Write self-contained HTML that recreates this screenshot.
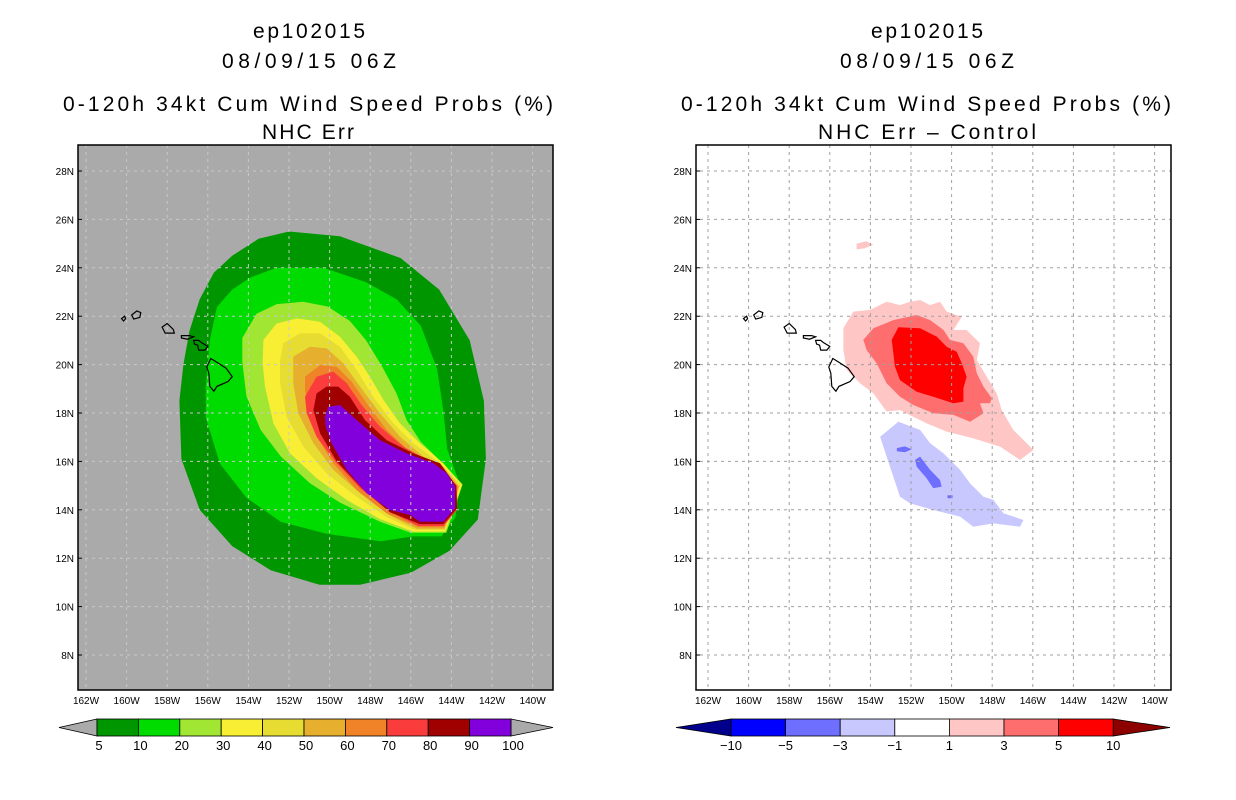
<!DOCTYPE html>
<html><head><meta charset="utf-8"><style>
html,body{margin:0;padding:0;background:#fff;}
svg{display:block;}
text{font-family:"Liberation Sans",sans-serif;fill:#000;}
</style></head><body>
<svg id="s" width="1236" height="800" viewBox="0 0 1236 800" xmlns="http://www.w3.org/2000/svg">
<defs>
<clipPath id="cl"><rect x="78" y="145" width="475" height="545"/></clipPath>
<clipPath id="cr"><rect x="696" y="145" width="475" height="545"/></clipPath>
</defs>
<g>
<text x="309" y="38" font-size="21" text-anchor="middle" textLength="112">ep102015</text>
<text x="309" y="68" font-size="21" text-anchor="middle" textLength="174">08/09/15 06Z</text>
<text x="308" y="111" font-size="21" text-anchor="middle" textLength="490">0-120h 34kt Cum Wind Speed Probs (%)</text>
<text x="308" y="139" font-size="21" text-anchor="middle" textLength="92">NHC Err</text>
</g>
<g>
<text x="927" y="38" font-size="21" text-anchor="middle" textLength="112">ep102015</text>
<text x="927" y="68" font-size="21" text-anchor="middle" textLength="174">08/09/15 06Z</text>
<text x="926" y="111" font-size="21" text-anchor="middle" textLength="490">0-120h 34kt Cum Wind Speed Probs (%)</text>
<text x="927" y="139" font-size="21" text-anchor="middle" textLength="218">NHC Err – Control</text>
</g>
<rect x="78" y="145" width="475" height="545" fill="#aaaaaa"/>
<g id="lf" clip-path="url(#cl)"></g>
<g id="rf" clip-path="url(#cr)"></g>
<g id="ax"></g>
</svg>
<script>
const latTicks=[28,26,24,22,20,18,16,14,12,10,8];
const lonTicks=[162,160,158,156,154,152,150,148,146,144,142,140];
const probLevels=[5,10,20,30,40,50,60,70,80,90,100];
const probColors=["#009600","#00dc00","#a0e632","#f8ee33","#e6dc32","#e6af2d","#f08228","#fa3c3c","#a00000","#8200dc"];
const diffLevels=[-10,-5,-3,-1,1,3,5,10];
const diffColors=["#00008c","#0000ff","#6e6eff","#c8c8ff","#ffffff","#ffc6c6","#ff6e6e","#ff0000","#8c0000"];
// contours: [lonW, lat]
const p5=[[154.8,24.5],[153.5,25.2],[152,25.5],[149.5,25.3],[146.5,24.4],[144.6,23.1],[143.1,21.0],[142.4,18.5],[142.3,16.1],[142.7,13.6],[144.1,12.3],[146,11.4],[148.5,10.9],[150.5,10.9],[152.9,11.5],[154.8,12.5],[156.4,14.0],[157.3,16.1],[157.4,18.5],[157.2,20.0],[156.9,21.4],[156.4,22.7],[155.7,23.8]];
const p10=[[153.9,23.6],[152.6,24.0],[150.3,24.0],[148.2,23.4],[146.7,22.7],[145.5,21.6],[144.7,19.8],[144.4,18.1],[144.2,16.5],[143.6,15.1],[143.8,13.7],[144.5,12.9],[145.9,12.9],[147.5,12.7],[150.1,13.0],[152.4,13.5],[154.1,14.5],[155.4,15.9],[156.1,17.8],[156.1,19.1],[155.9,21.0],[155.55,22.38],[154.8,23.1]];
const p20=[[154.3,21.1],[153.6,22.1],[152.6,22.5],[151.3,22.6],[150.1,22.4],[149.0,21.8],[148.2,21.0],[147.4,19.9],[146.7,18.8],[146.2,17.7],[145.5,16.8],[144.4,15.9],[143.45,15.05],[144.25,13.05],[146.0,13.05],[147.5,13.5],[149.5,14.3],[150.97,15.1],[152.4,16.2],[153.4,17.3],[154.1,18.7],[154.3,20.1]];
const p30=[[153.26,21.02],[152.61,21.7],[151.62,21.91],[150.47,21.77],[149.49,21.15],[148.67,20.33],[148.01,19.5],[147.35,18.54],[146.53,17.57],[145.55,16.75],[144.4,15.92],[143.48,15.03],[144.3,13.1],[145.88,13.1],[147.52,13.62],[149.16,14.41],[150.64,15.3],[151.95,16.33],[152.77,17.57],[153.18,19.09],[153.3,20.05]];
const p40=[[152.28,20.88],[151.46,21.29],[150.47,21.29],[149.49,20.74],[148.67,19.78],[147.85,18.67],[146.86,17.57],[145.88,16.75],[144.56,15.92],[143.56,15.03],[144.32,13.17],[145.79,13.17],[147.19,13.7],[148.67,14.54],[150.15,15.51],[151.29,16.61],[152.12,17.85],[152.44,19.23],[152.44,20.19]];
const p50=[[151.79,20.33],[150.97,20.74],[150.15,20.67],[149.32,20.05],[148.5,19.09],[147.52,17.99],[146.53,17.02],[145.38,16.2],[144.4,15.78],[143.62,14.96],[144.34,13.22],[145.71,13.22],[147.03,13.76],[148.5,14.68],[149.82,15.65],[150.8,16.75],[151.54,17.99],[151.79,19.23]];
const p60=[[151.21,19.5],[150.47,19.98],[149.65,19.91],[148.92,19.3],[148.17,18.4],[147.19,17.3],[146.04,16.4],[144.73,15.85],[143.68,14.96],[144.36,13.28],[145.63,13.28],[147.19,13.85],[148.67,14.82],[149.82,15.92],[150.64,17.02],[151.05,18.26],[151.21,18.95]];
const p70=[[151.21,18.67],[150.64,19.5],[149.82,19.71],[149.16,19.23],[148.42,18.33],[147.52,17.44],[146.37,16.61],[144.89,15.92],[143.72,15.0],[143.72,14.0],[144.38,13.33],[145.63,13.33],[147.03,13.92],[148.5,14.89],[149.65,15.92],[150.64,17.02],[151.13,17.99]];
const p80=[[150.8,18.12],[150.64,18.81],[150.15,19.09],[149.57,19.09],[149.0,18.67],[148.26,17.71],[147.19,16.88],[145.88,16.33],[144.56,15.92],[143.77,15.0],[143.72,14.06],[144.4,13.41],[145.55,13.41],[147.03,13.9],[148.42,14.9],[149.65,16.0],[150.47,17.16]];
const p90=[[150.23,17.85],[150.06,18.26],[149.49,18.33],[148.67,17.71],[147.52,16.88],[146.2,16.33],[144.89,15.92],[144.23,15.51],[143.82,14.96],[143.82,14.06],[144.4,13.51],[145.55,13.51],[146.04,13.79],[147.03,13.99],[148.17,14.68],[149.16,15.65],[149.9,16.75],[150.19,17.44]];
const probPolys=[p5,p10,p20,p30,p40,p50,p60,p70,p80,p90];
const dPos1=[[155.33,21.5],[154.84,22.19],[154.02,22.26],[153.2,22.6],[152.54,22.46],[152.05,22.6],[151.55,22.67],[151.06,22.46],[150.57,22.6],[150.24,22.19],[149.5,21.98],[149.91,21.43],[149.26,21.43],[148.6,20.88],[148.76,20.19],[148.27,19.5],[147.78,18.81],[147.53,18.12],[146.96,17.3],[146.3,16.75],[145.97,16.47],[146.63,16.06],[147.61,16.61],[148.93,16.95],[150.24,17.23],[151.23,17.57],[152.54,18.12],[153.2,18.06],[153.85,18.81],[154.51,19.23],[155.17,19.78],[155.33,20.6]];
const dPos1b=[[154.68,25.0],[154.2,25.1],[153.85,24.95],[154.3,24.8],[154.68,24.76]];
const dPos3=[[154.35,21.02],[153.85,21.5],[152.87,21.84],[151.72,22.05],[151.06,21.84],[150.4,21.43],[150.08,21.02],[149.42,20.88],[148.93,20.33],[148.76,19.64],[148.43,19.09],[148.02,18.61],[148.11,18.4],[148.6,18.4],[148.43,17.99],[149.09,17.64],[149.91,17.92],[150.9,17.99],[151.88,18.33],[152.54,18.67],[153.2,19.23],[153.69,20.05],[154.18,20.6]];
const dPos5=[[152.95,21.02],[152.62,21.54],[151.55,21.5],[150.73,21.15],[150.24,20.74],[149.75,20.53],[149.5,20.05],[149.26,19.5],[149.42,19.02],[149.42,18.47],[149.91,18.4],[150.9,18.67],[151.72,18.88],[152.54,19.36],[152.79,19.91]];
const dNeg1=[[153.52,17.02],[152.62,17.64],[151.55,17.3],[151.06,16.75],[150.4,16.33],[149.58,15.65],[149.09,15.09],[148.43,14.54],[147.94,14.41],[147.45,13.86],[146.46,13.58],[146.63,13.3],[147.94,13.44],[148.93,13.3],[149.58,13.72],[150.9,13.99],[152.05,14.27],[152.54,14.54],[152.87,15.37],[153.2,16.2]];
const dNeg3a=[[152.7,16.55],[152.3,16.62],[151.96,16.5],[152.3,16.38],[152.7,16.42]];
const dNeg3b=[[151.8,16.06],[151.55,16.2],[151.06,15.65],[150.57,15.23],[150.49,14.96],[150.9,14.89],[151.23,15.3],[151.72,15.78]];
const dNeg3c=[[150.2,14.6],[149.95,14.6],[149.95,14.48],[150.2,14.48]];
const diffPolys=[[dPos1,5],[dPos1b,5],[dPos3,6],[dPos5,7],[dNeg1,3],[dNeg3a,2],[dNeg3b,2],[dNeg3c,2]];
// islands [lonW,lat]
const bigIsland=[[155.85,20.25],[155.55,20.1],[155.1,19.85],[154.8,19.5],[155.0,19.3],[155.55,19.1],[155.7,18.9],[155.9,19.1],[155.95,19.65],[156.05,19.9]];
const maui=[[156.7,21.0],[156.45,21.0],[156.3,20.9],[156.0,20.75],[156.15,20.6],[156.45,20.6],[156.5,20.8],[156.65,20.85]];
const molokai=[[157.3,21.2],[156.9,21.2],[156.7,21.15],[157.0,21.05],[157.3,21.1]];
const oahu=[[158.25,21.55],[158.0,21.7],[157.7,21.45],[157.65,21.3],[158.1,21.3]];
const kauai=[[159.75,22.05],[159.5,22.22],[159.3,22.15],[159.35,21.95],[159.65,21.88]];
const niihau=[[160.25,21.9],[160.1,22.0],[160.05,21.9],[160.15,21.8]];
const islands=[bigIsland,maui,molokai,oahu,kauai,niihau];

const NS="http://www.w3.org/2000/svg";
function X(lonW,off){return off+86+(162-lonW)*20.3;}
function Y(lat){return 171+(28-lat)*24.2;}
function mk(tag,attrs,parent){const e=document.createElementNS(NS,tag);for(const k in attrs)e.setAttribute(k,attrs[k]);parent.appendChild(e);return e;}
function pts(poly,off){return poly.map(p=>X(p[0],off).toFixed(1)+","+Y(p[1]).toFixed(1)).join(" ");}
const lf=document.getElementById("lf"),rf=document.getElementById("rf"),ax=document.getElementById("ax"),svg=document.getElementById("s");
probPolys.forEach((poly,i)=>{
 const e=mk("polygon",{points:pts(poly,0),fill:probColors[i]},lf);
 
 
});
diffPolys.forEach((d,i)=>{
 const e=mk("polygon",{points:pts(d[0],622),fill:diffColors[d[1]]},rf);
 
 
});
[[lf,0,"#c8c8c8"],[rf,622,"#a0a0a0"]].forEach(([g,off,col])=>{
 lonTicks.forEach(l=>{const e=mk("line",{x1:X(l,off),x2:X(l,off),y1:145,y2:690,stroke:col,"stroke-dasharray":"3,4","stroke-width":1},g);
  });
 latTicks.forEach(l=>{const e=mk("line",{x1:78+off,x2:553+off,y1:Y(l),y2:Y(l),stroke:col,"stroke-dasharray":"3,4","stroke-width":1},g);
  });
 islands.forEach(isl=>{const e=mk("polygon",{points:pts(isl,off),fill:"none",stroke:"#000","stroke-width":1.2},g);
  });
});
[0,618].forEach(off=>{
 const fr=mk("rect",{x:78+off,y:145,width:475,height:545,fill:"none",stroke:"#000","stroke-width":1.5},ax);
 
});
[0,622].forEach(off=>{
 const fo=off?618:0;
 latTicks.forEach(l=>{
  const t=mk("text",{x:74+fo,y:Y(l)+4,"font-size":10,"text-anchor":"end"},ax);t.textContent=l+"N";
  
  const tk=mk("line",{x1:78+fo,x2:82+fo,y1:Y(l),y2:Y(l),stroke:"#000"},ax);
  
 });
 lonTicks.forEach(l=>{
  const t=mk("text",{x:X(l,off),y:704,"font-size":10,"text-anchor":"middle"},ax);t.textContent=l+"W";
  
 });
});
// left colorbar
(function(){
 const x0=97,w=41.4,y0=719,h=17;
 const g=mk("g",{},svg);
 const a=mk("polygon",{points:`59,${y0+h/2} ${x0},${y0} ${x0},${y0+h}`,fill:"#aaaaaa",stroke:"#000","stroke-width":0.8},g);
 
 const b=mk("polygon",{points:`${x0+10*w},${y0} 553,${y0+h/2} ${x0+10*w},${y0+h}`,fill:"#aaaaaa",stroke:"#000","stroke-width":0.8},g);
 
 probColors.forEach((c,i)=>{const r=mk("rect",{x:x0+i*w,y:y0,width:w,height:h,fill:c,stroke:"#000","stroke-width":0.8},g);
  });
 probLevels.forEach((v,i)=>{const t=mk("text",{x:x0+i*w+2,y:750,"font-size":13,"text-anchor":"middle"},g);t.textContent=v;
  });
})();
// right colorbar
(function(){
 const x0=731,w=54.6,y0=719,h=17;
 const g=mk("g",{},svg);
 const a=mk("polygon",{points:`676,${y0+h/2} ${x0},${y0} ${x0},${y0+h}`,fill:diffColors[0],stroke:"#000","stroke-width":0.8},g);
 
 const b=mk("polygon",{points:`${x0+7*w},${y0} 1170,${y0+h/2} ${x0+7*w},${y0+h}`,fill:diffColors[8],stroke:"#000","stroke-width":0.8},g);
 
 for(let i=0;i<7;i++){const r=mk("rect",{x:x0+i*w,y:y0,width:w,height:h,fill:diffColors[i+1],stroke:"#000","stroke-width":0.8},g);
  }
 diffLevels.forEach((v,i)=>{const t=mk("text",{x:x0+i*w,y:750,"font-size":13,"text-anchor":"middle"},g);t.textContent=v<0?"−"+(-v):v;
  });
})();
</script>
</body></html>
